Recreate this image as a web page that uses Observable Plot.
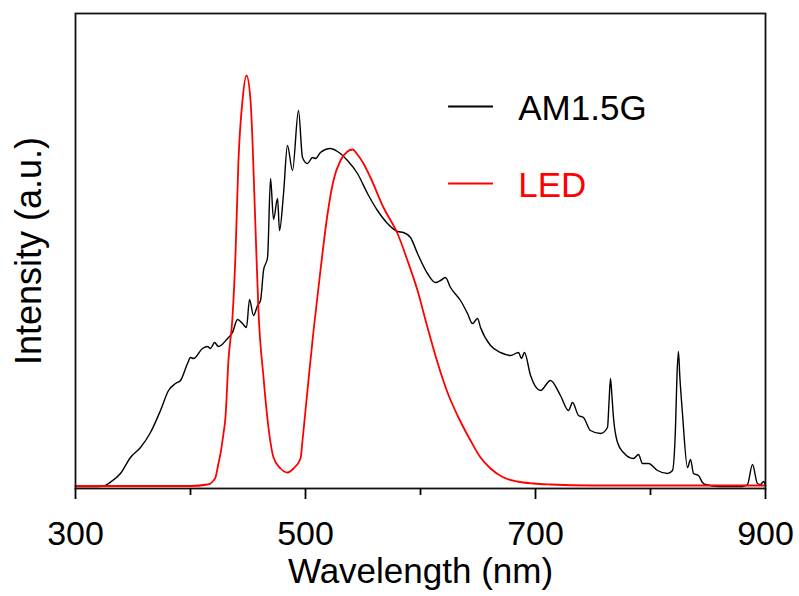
<!DOCTYPE html>
<html>
<head>
<meta charset="utf-8">
<script src="https://cdn.jsdelivr.net/npm/d3@7"></script>
<script src="https://cdn.jsdelivr.net/npm/@observablehq/plot@0.6"></script>
<style>
  html, body { margin: 0; padding: 0; background: #fff; }
  #chart svg { display: block; }
</style>
</head>
<body>
<div id="chart"></div>
<script>
// AM1.5G solar spectrum (wavelength nm, intensity a.u.)
const am15gWavelength = [300,320,326,328.7,339.1,347.8,356.5,365.2,373.9,380.9,387.0,391.3,397.4,400.0,402.6,410.4,414.8,417.4,420.9,424.3,432.2,436.5,440.9,445.2,448.7,451.3,454.8,458.3,460.9,463.5,467.0,469.6,472.2,475.7,477.4,480.9,484.3,488.7,493.9,497.4,501.7,506.1,508.7,513.0,521.7,527.8,536.5,545.2,553.9,562.6,571.3,580.0,585.2,591.3,597.4,606.1,613.0,617.4,621.7,626.1,634.8,640.9,645.2,649.6,652.2,660.9,669.6,678.3,685.2,687.8,690.4,695.7,704.3,713.0,721.7,728.7,732.2,737.4,741.7,747.8,756.5,762.6,764.0,765.2,766.5,767.8,771.3,776.5,785.2,789.6,793.0,798.3,806.1,814.8,819.1,821.7,823.0,824.3,825.5,827.8,832.2,834.8,837.4,841.7,845.2,847.8,860,880.0,884.3,888.7,893,895.7,898.3,900];
const am15gIntensity  = [2,2,3,5,15,31,41,56,78,98,105,108,125,131,130,140,142,140,146,142,150,156,169,165,161,189,173,183,188,218,231,310,269,290,258,295,343,318,378,331,325,331,330,336,340,337,328,315,295,278,265,257,256,251,235,215,206,208,211,201,188,175,165,170,161,143,136,133,136,130,136,113,98,108,93,78,86,73,71,58,55,61,88,110,92,71,46,36,30,34,25,25,18,15,18,60,112,137,112,75,21,29,15,13,6,4,2,2,4,24,5,4,7,3,3];

// LED emission spectrum
const ledWavelength = [300,350,400,414.8,417.4,420.0,421.7,424.3,426.1,428.7,430.4,433.0,436.5,439.1,441.7,445.2,448.7,452.2,453.9,455.7,457.4,459.1,463.5,467.8,472.2,478.3,484.3,489.6,495.7,497.4,501.7,507.0,513.0,519.1,524.3,530.4,536.5,540.9,545.2,550.4,556.5,567.8,580.0,588.7,597.4,606.1,614.8,623.5,632.2,643.5,652.2,660.9,672.2,684.3,698.3,713.0,750,800,850,900];
const ledIntensity  = [2.5,2.5,2.5,4,5,8,11,25,35,55,71,128,171,233,328,388,413,388,348,288,231,178,111,61,31,20,16,20,30,48,98,158,218,274,308,328,337,339,334,325,311,281,255,228,198,161,126,96,73,48,31,20,11,7,5,4,3,3,3,3];

const seriesNames = ["AM1.5G", "LED"];
const seriesColors = ["#000000", "#ff0000"];
const majorTicks = [300, 500, 700, 900];
const minorTicks = [400, 600, 800];
const xLabel = "Wavelength (nm)";
const yLabel = "Intensity (a.u.)";

const am = am15gWavelength.map((x, i) => ({x, y: am15gIntensity[i]}));
const led = ledWavelength.map((x, i) => ({x, y: ledIntensity[i]}));

// legend placement (in data units)
const legend = seriesNames.map((name, i) => ({
  name, color: seriesColors[i],
  x1: 624, x2: 663, xt: 685, y: [382, 305][i], yt: [380, 303][i]
}));

const font = "'Liberation Sans', Arial, sans-serif";

const chart = Plot.plot({
  width: 799,
  height: 596,
  marginLeft: 75,
  marginRight: 34,
  marginTop: 13,
  marginBottom: 108,
  style: {fontFamily: font, background: "#fff", color: "#000"},
  x: {domain: [300, 900]},
  y: {domain: [0, 475], axis: null},
  marks: [
    Plot.line(am, {x: "x", y: "y", stroke: seriesColors[0], strokeWidth: 1.4, curve: "monotone-x"}),
    Plot.line(led, {x: "x", y: "y", stroke: seriesColors[1], strokeWidth: 1.8, curve: "monotone-x"}),
    Plot.frame({stroke: "#111", strokeWidth: 1.8}),
    Plot.axisX({ticks: majorTicks, tickSize: 11, tickPadding: 21, fontSize: 34, label: null, strokeWidth: 1.8, tickFormat: d => String(d)}),
    Plot.axisX({ticks: minorTicks, tickSize: 7, label: null, strokeWidth: 1.8, tickFormat: () => ""}),
    Plot.text([xLabel], {frameAnchor: "bottom", lineAnchor: "middle", textAnchor: "middle", dy: 83, fontSize: 35, text: d => d}),
    Plot.text([yLabel], {frameAnchor: "left", lineAnchor: "middle", textAnchor: "middle", dx: -46, rotate: -90, fontSize: 36, text: d => d}),
    Plot.link(legend, {x1: "x1", x2: "x2", y1: "y", y2: "y", stroke: "color", strokeWidth: 2.2}),
    Plot.text(legend, {x: "xt", y: "yt", text: "name", fill: "color", fontSize: 35, textAnchor: "start"})
  ]
});
document.getElementById("chart").appendChild(chart);
</script>
</body>
</html>
